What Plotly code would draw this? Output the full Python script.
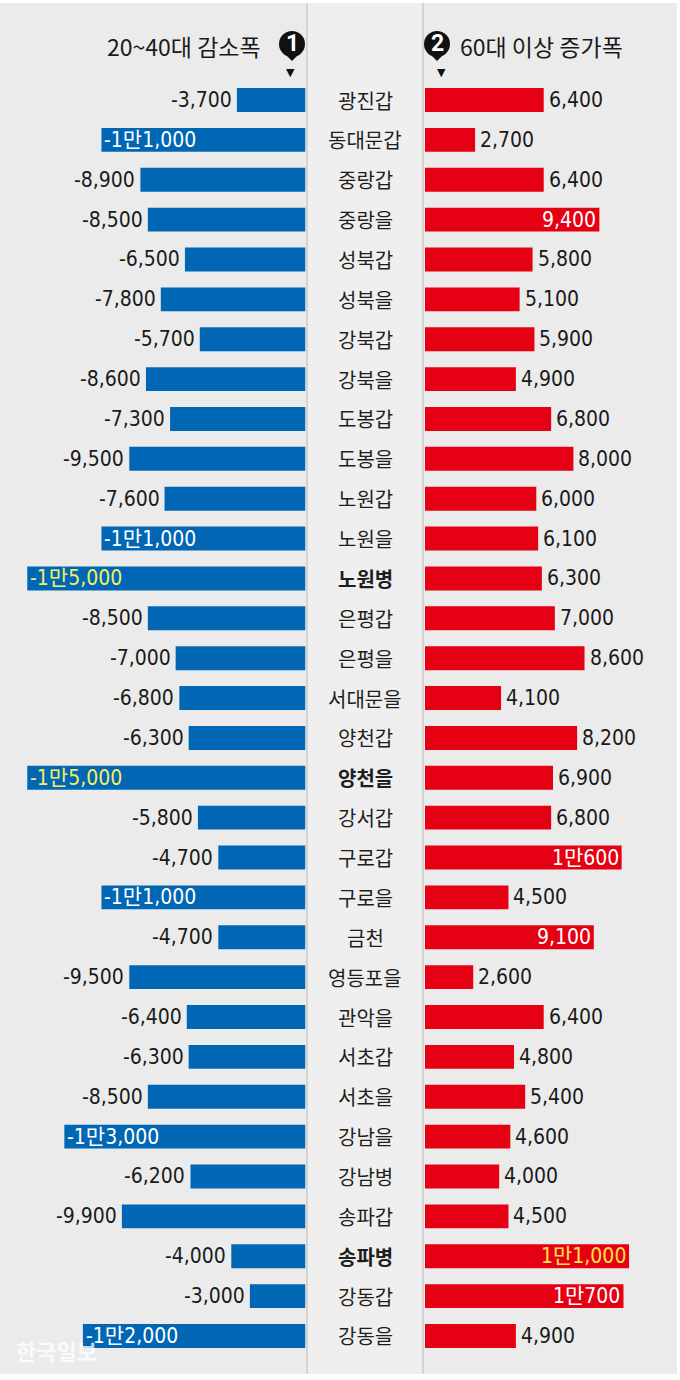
import plotly.graph_objects as go

# ---- data ----
districts = ["광진갑", "동대문갑", "중랑갑", "중랑을", "성북갑", "성북을", "강북갑", "강북을",
             "도봉갑", "도봉을", "노원갑", "노원을", "노원병", "은평갑", "은평을", "서대문을",
             "양천갑", "양천을", "강서갑", "구로갑", "구로을", "금천", "영등포을", "관악을",
             "서초갑", "서초을", "강남을", "강남병", "송파갑", "송파병", "강동갑", "강동을"]
young_change = [-3700, -11000, -8900, -8500, -6500, -7800, -5700, -8600,
                -7300, -9500, -7600, -11000, -15000, -8500, -7000, -6800,
                -6300, -15000, -5800, -4700, -11000, -4700, -9500, -6400,
                -6300, -8500, -13000, -6200, -9900, -4000, -3000, -12000]
senior_change = [6400, 2700, 6400, 9400, 5800, 5100, 5900, 4900,
                 6800, 8000, 6000, 6100, 6300, 7000, 8600, 4100,
                 8200, 6900, 6800, 10600, 4500, 9100, 2600, 6400,
                 4800, 5400, 4600, 4000, 4500, 11000, 10700, 4900]
highlighted = ["노원병", "양천을", "송파병"]
left_title = "20~40대 감소폭"
right_title = "60대 이상 증가폭"
watermark = "한국일보"

W, H = 680, 1380
BLUE = "#0167b4"
RED = "#e60013"
BG = "#ebebeb"
NUMFONT = "Liberation Sans Narrow, DejaVu Sans Condensed, Roboto, Noto Sans CJK KR, sans-serif"
KFONT = "Noto Sans CJK KR, sans-serif"

PX_PER = 18.55 / 1000.0
ZERO_L = 305.5
ZERO_R = 425.0
ROW0 = 100.0
ROWSTEP = 39.87


def fmt(v):
    sign = "-" if v < 0 else ""
    a = abs(v)
    if a >= 10000:
        return f"{sign}{a // 10000}만{a % 10000:,}"
    return f"{sign}{a:,}"


ys = list(range(len(districts)))

fig = go.Figure()
fig.add_trace(go.Bar(y=ys, x=young_change, orientation="h", marker=dict(color=BLUE, line=dict(width=0)),
                     width=0.6, xaxis="x", yaxis="y", hoverinfo="skip", cliponaxis=False))
fig.add_trace(go.Bar(y=ys, x=senior_change, orientation="h", marker=dict(color=RED, line=dict(width=0)),
                     width=0.6, xaxis="x2", yaxis="y", hoverinfo="skip", cliponaxis=False))

ann = []
for i, name in enumerate(districts):
    hi = name in highlighted
    ann.append(dict(x=(ZERO_L + ZERO_R) / 2 / W, xref="paper", y=i, yref="y", text=f"<b>{name}</b>" if hi else name,
                    showarrow=False, font=dict(family=KFONT, size=20, color="#1e1e1e"),
                    xanchor="center", yanchor="middle"))
    v = young_change[i]
    inside = abs(v) >= 10000
    col = ("#f2f062" if hi else "#ffffff") if inside else "#1a1a1a"
    ann.append(dict(x=v, xref="x", y=i, yref="y", text=fmt(v), showarrow=False,
                    font=dict(family=NUMFONT, size=21, color=col),
                    xanchor="left" if inside else "right", xshift=1 if inside else -3, yanchor="middle"))
    v = senior_change[i]
    inside = v >= 9000
    col = ("#ffe34d" if hi else "#ffffff") if inside else "#1a1a1a"
    ann.append(dict(x=v, xref="x2", y=i, yref="y", text=fmt(v), showarrow=False,
                    font=dict(family=NUMFONT, size=21, color=col),
                    xanchor="right" if inside else "left", xshift=-1 if inside else 3, yanchor="middle"))

# headers
ann.append(dict(x=263 / W, xref="paper", y=1 - 46 / H, yref="paper", text=left_title, showarrow=False,
                font=dict(family=KFONT, size=23, color="#1a1a1a"), xanchor="right", yanchor="middle"))
ann.append(dict(x=458 / W, xref="paper", y=1 - 46 / H, yref="paper", text=right_title, showarrow=False,
                font=dict(family=KFONT, size=23, color="#1a1a1a"), xanchor="left", yanchor="middle"))
for num, cx, tx in [("1", 292, 290), ("2", 437, 441)]:
    ann.append(dict(x=cx / W, xref="paper", y=1 - 44 / H, yref="paper", text=f"<b>{num}</b>", showarrow=False,
                    font=dict(family="Roboto, sans-serif", size=23, color="white"),
                    xanchor="center", yanchor="middle"))
    ann.append(dict(x=tx / W, xref="paper", y=1 - 73 / H, yref="paper", text="▼", showarrow=False,
                    font=dict(family="DejaVu Sans", size=11, color="#111"), xanchor="center", yanchor="middle"))
ann.append(dict(x=14 / W, xref="paper", y=1 - 1350 / H, yref="paper", text=f"<b>{watermark}</b>", showarrow=False,
                font=dict(family=KFONT, size=22, color="rgba(255,255,255,0.75)"), xanchor="left", yanchor="middle"))

shapes = [
    dict(type="rect", xref="paper", yref="paper", x0=0, x1=677 / W, y0=1 - 1374 / H, y1=1 - 3 / H,
         fillcolor=BG, line=dict(width=0), layer="below"),
    dict(type="rect", xref="paper", yref="paper", x0=306 / W, x1=424 / W, y0=1 - 1374 / H, y1=1 - 3 / H,
         fillcolor="#efefef", line=dict(width=0), layer="below"),
    dict(type="line", xref="paper", yref="paper", x0=307 / W, x1=307 / W, y0=1 - 1374 / H, y1=1 - 3 / H,
         line=dict(color="#d4d4d4", width=2), layer="below"),
    dict(type="line", xref="paper", yref="paper", x0=423 / W, x1=423 / W, y0=1 - 1374 / H, y1=1 - 3 / H,
         line=dict(color="#d4d4d4", width=2), layer="below"),
]
for cx in [292, 437]:
    cy = 44
    r = 13
    shapes.append(dict(type="circle", xref="paper", yref="paper", x0=(cx - r) / W, x1=(cx + r) / W,
                       y0=1 - (cy + r) / H, y1=1 - (cy - r) / H, fillcolor="#111", line=dict(width=0)))
    shapes.append(dict(type="path", xref="paper", yref="paper",
                       path=f"M {(cx - 7) / W} {1 - (cy + 10) / H} L {(cx + 7) / W} {1 - (cy + 10) / H} L {cx / W} {1 - (cy + 17) / H} Z",
                       fillcolor="#111", line=dict(width=0)))

ytop = -ROW0 / ROWSTEP
ybot = (H - ROW0) / ROWSTEP
fig.update_layout(
    width=W, height=H, margin=dict(l=0, r=0, t=0, b=0),
    paper_bgcolor="white", plot_bgcolor="rgba(0,0,0,0)",
    showlegend=False, barmode="overlay",
    xaxis=dict(domain=[0, ZERO_L / W], range=[-ZERO_L / PX_PER, 0], visible=False, fixedrange=True),
    xaxis2=dict(domain=[ZERO_R / W, 1], range=[0, (W - ZERO_R) / PX_PER], visible=False, anchor="y", fixedrange=True),
    yaxis=dict(domain=[0, 1], range=[ybot, ytop], visible=False, fixedrange=True),
    annotations=ann, shapes=shapes,
)
fig.write_html("out.html", config={"displayModeBar": False},
               post_script="document.body.style.margin='0';document.body.style.overflow='hidden';")
